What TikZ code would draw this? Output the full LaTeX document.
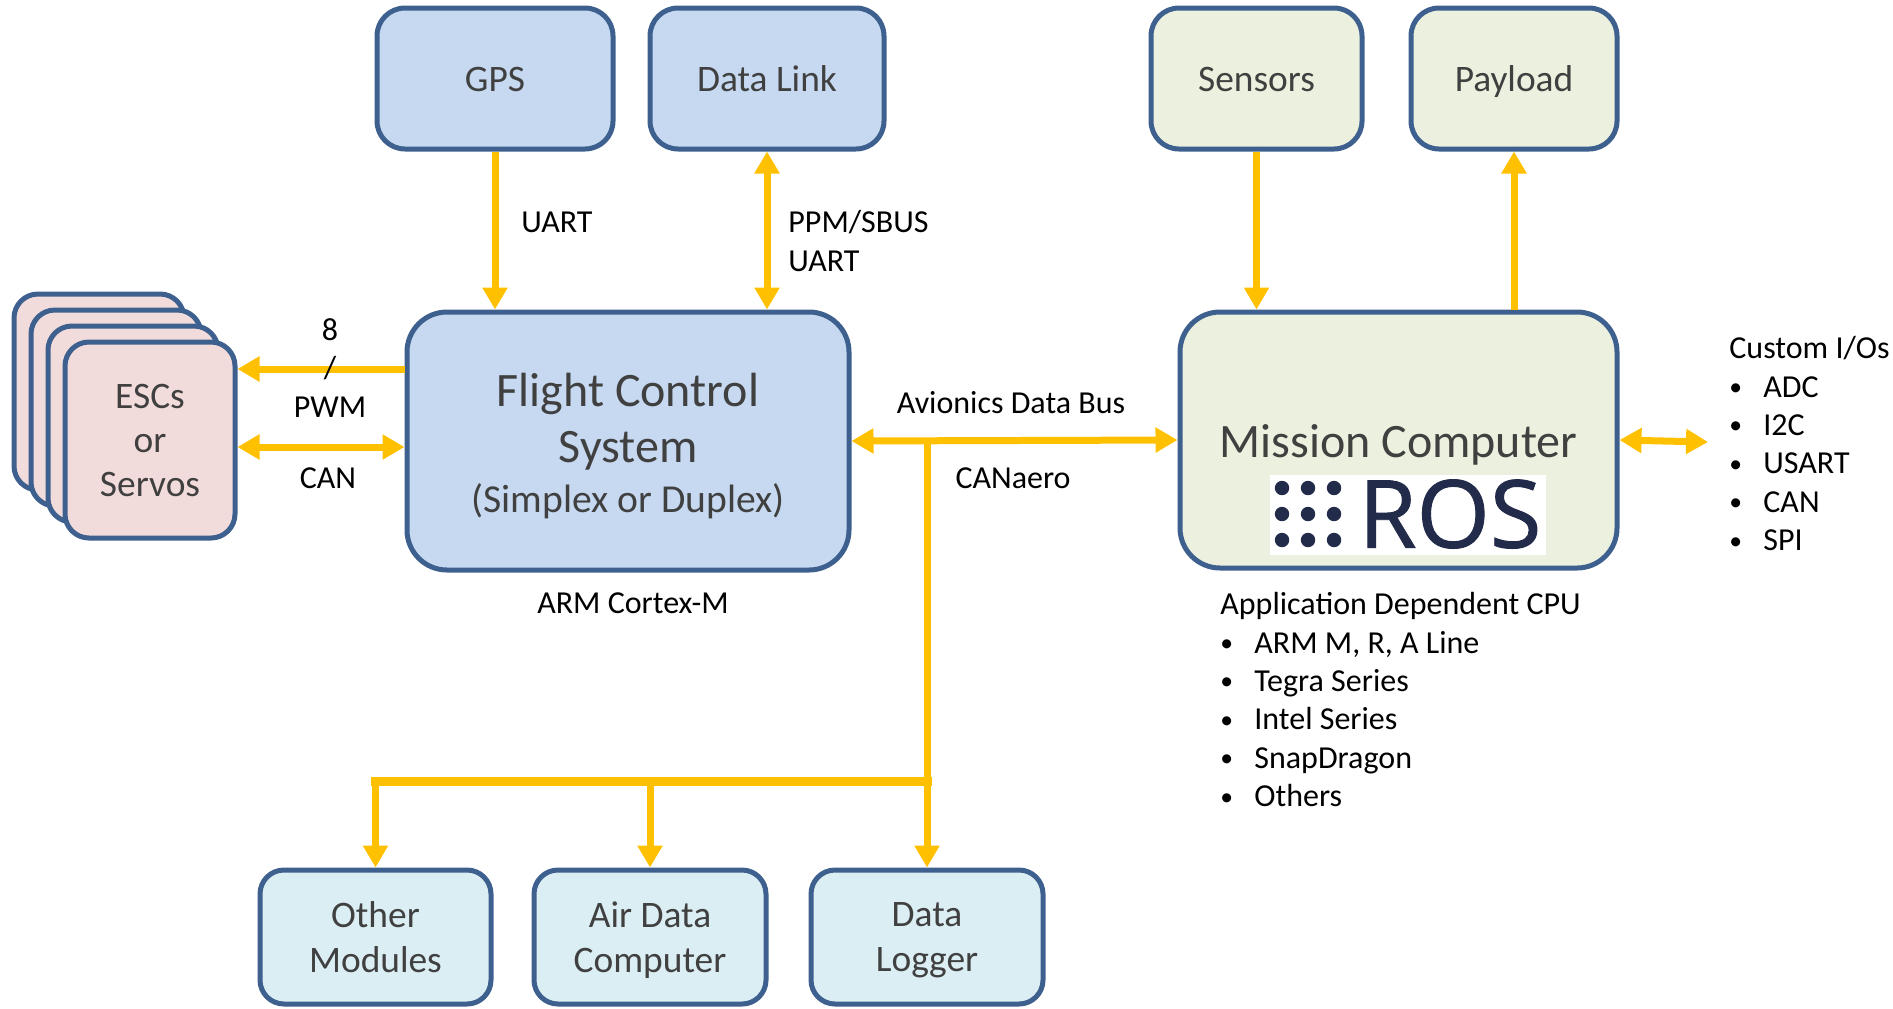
\documentclass[tikz,border=0pt]{standalone}
\usepackage{fontspec}
\setmainfont{Carlito}
\newfontfamily\rosfont[FakeBold=1]{Open Sans}
\usepackage{tikz}
\usetikzlibrary{arrows.meta,positioning}
\usepackage{xcolor}
\definecolor{dfedge}{RGB}{61,96,143}
\definecolor{dfblue4}{RGB}{198,217,240}
\definecolor{dfgreen4}{RGB}{235,241,222}
\definecolor{dfpink4}{RGB}{242,220,219}
\definecolor{dfcyan4}{RGB}{219,238,244}
\definecolor{dfyellow}{RGB}{255,192,0}
\definecolor{dftext}{RGB}{64,64,64}
\definecolor{dfnavy}{RGB}{34,43,74}
\tikzstyle{block} = [draw=dfedge, line width=2.5pt, rounded corners=14pt, align=center, text=dftext, inner sep=0pt, font=\fontsize{18.7}{22}\selectfont]
\tikzstyle{topblock} = [block, minimum height=70.5pt, text height=13pt, text depth=0pt]
\tikzstyle{busblock} = [block, fill=dfcyan4, rounded corners=12pt, minimum width=116pt, minimum height=67pt, text depth=0pt, font=\fontsize{18.7}{22.5}\selectfont]
\tikzstyle{bigtext} = [align=center, text=dftext, inner sep=0pt, font=\fontsize{24}{28}\selectfont]
\tikzstyle{arrow} = [line width=3.5pt, color=dfyellow, -{Triangle[length=11pt,width=12pt]}]
\tikzstyle{dblarrow} = [line width=3.5pt, color=dfyellow, {Triangle[length=11pt,width=12pt]}-{Triangle[length=11pt,width=12pt]}]
\tikzstyle{lbl} = [font=\fontsize{16}{19.2}\selectfont, inner sep=0pt]
\newcommand{\itm}[1]{\makebox[17pt][l]{\raisebox{0.8pt}{\scalebox{0.8}{\textbullet}}}#1}

\begin{document}
\begin{tikzpicture}[x=0.5pt, y=-0.5pt]
\useasboundingbox (0,0) rectangle (1893,1008);

% Top modules
\node[topblock, fill=dfblue4, minimum width=118pt] (gps) at (495,78.5) {GPS};
\node[topblock, fill=dfblue4, minimum width=117pt] (dlink) at (767,78.5) {Data Link};
\node[topblock, fill=dfgreen4, minimum width=105.5pt] (sens) at (1256.5,78.5) {Sensors};
\node[topblock, fill=dfgreen4, minimum width=103pt] (payload) at (1514,78.5) {Payload};

% Main computers
\node[block, fill=dfblue4, rounded corners=20pt, minimum width=221pt, minimum height=129pt] (fcs) at (628,441) {};
\node[bigtext] (fcstext) at ([yshift=-2.5pt]fcs.center)
  {Flight Control\\System\\[-3pt]{\fontsize{19.8}{22}\selectfont (Simplex or Duplex)}};
\node[block, fill=dfgreen4, rounded corners=20pt, minimum width=218.5pt, minimum height=128pt] (mc) at (1398.5,440) {};
\node[bigtext] (mctext) at ([yshift=-2.5pt]mc.center) {Mission Computer};

% ROS logo
\node[fill=white, minimum width=138pt, minimum height=40pt, inner sep=0pt] (roslogo) at (1408,515) {};
\foreach \cx in {1282,1308,1334}
  \foreach \cy in {488,514,540}
    \fill[dfnavy] (\cx,\cy) circle (3.6pt);
\node[text=dfnavy, font=\rosfont\fontsize{47}{47}\selectfont, inner sep=0pt] (rostext) at (1450,514) {ROS};

% ESC stack
\foreach \i in {3,2,1}
  \node[block, fill=dfpink4, rounded corners=12pt, minimum width=85pt, minimum height=98pt] (esc\i) at (150-17*\i,440-16*\i) {};
\node[block, fill=dfpink4, rounded corners=12pt, minimum width=85pt, minimum height=98pt] (esc) at (150,440) {ESCs\\or\\Servos};

% Bus modules
\node[busblock, minimum width=115.5pt] (omod) at (375.5,937) {Other\\Modules};
\node[busblock] (adc) at (650,937) {Air Data\\Computer};
\node[busblock] (dlog) at (927,937) {Data\\Logger};

% Links
\draw[arrow] (gps.south) -- (gps.south |- fcs.north);
\draw[dblarrow] (dlink.south) -- (dlink.south |- fcs.north);
\draw[arrow] (sens.south) -- (sens.south |- mc.north);
\draw[arrow] (payload.south |- mc.north) -- (payload.south);

\coordinate (pwmend) at ([yshift=35.5pt]esc.east);
\coordinate (canend) at ([yshift=-3.5pt]esc.east);
\draw[arrow] (pwmend -| fcs.west) -- (pwmend);
\draw[dblarrow] (canend) -- (canend -| fcs.west);

\draw[dblarrow] (fcs.east) -- (mc.west);
\coordinate (tap) at (fcs.east -| dlog.north);
\coordinate (split) at (927,781);
\draw[arrow] (tap) -- (dlog.north);
\draw[line width=4.5pt, dfyellow, line cap=rect] (split) -- (split -| omod.north);
\draw[arrow] (split -| omod.north) -- (omod.north);
\draw[arrow] (split -| adc.north) -- (adc.north);

\coordinate (cio) at (1708,442);
\draw[dblarrow] (mc.east) -- (cio);

% Labels
\node[lbl, anchor=west] (uartlbl) at (521,222) {UART};
\node[lbl, anchor=west, align=left] (ppmlbl) at (788,241) {PPM/SBUS\\UART};
\node[lbl, align=center] (pwmlbl) at (330,368) {8\\/\\PWM};
\node[lbl] (canlbl) at (328,478) {CAN};
\node[lbl] (buslbl) at (1011,403) {Avionics Data Bus};
\node[lbl] (canaero) at (1013,478) {CANaero};
\node[lbl] (armlbl) at (633,603) {ARM Cortex-M};
\node[lbl, align=left, anchor=north west] (cpulist) at (1220,592)
  {Application Dependent CPU\\\itm{ARM M, R, A Line}\\\itm{Tegra Series}\\\itm{Intel Series}\\\itm{SnapDragon}\\\itm{Others}};
\node[lbl, align=left, anchor=north west] (iolist) at (1729,336)
  {Custom I/Os\\\itm{ADC}\\\itm{I2C}\\\itm{USART}\\\itm{CAN}\\\itm{SPI}};
\end{tikzpicture}
\end{document}
